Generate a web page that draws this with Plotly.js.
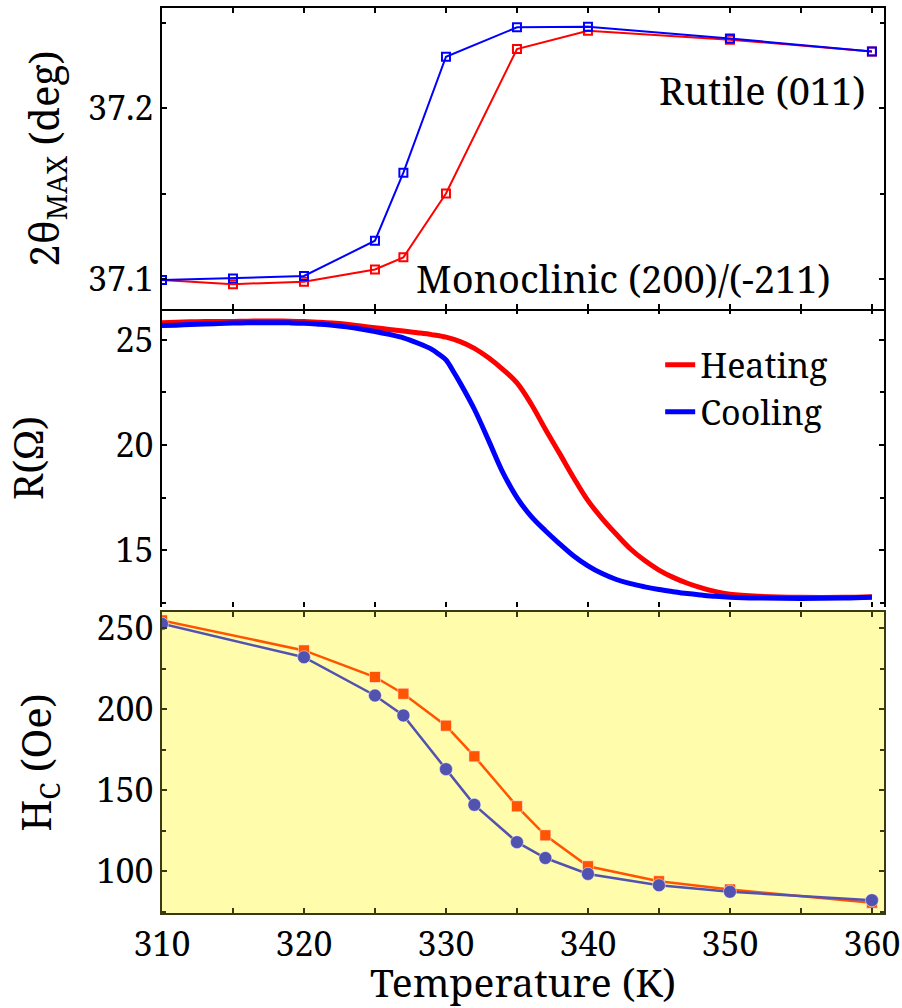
<!DOCTYPE html>
<html>
<head>
<meta charset="utf-8">
<script src="https://cdn.plot.ly/plotly-3.0.1.min.js"></script>
<style>html,body{margin:0;padding:0;background:#fff;}</style>
</head>
<body>
<div id="chart" style="width:902px;height:1008px"></div>
<script>
// ---- Top panel: 2θ_MAX (deg) ----
const xrdTemps = [310, 315, 320, 325, 327, 330, 335, 340, 350, 360];
const xrdHeating = [37.0994, 37.0970, 37.0985, 37.1056, 37.1127, 37.1500, 37.2345, 37.2452, 37.2400, 37.2330];
const xrdCooling = [37.0994, 37.1004, 37.1018, 37.1224, 37.1622, 37.2300, 37.2472, 37.2476, 37.2407, 37.2330];

// ---- Middle panel: R (Ω) ----
const resHeatT = [310,311,312,313,314,315,316,317,318,319,320,321,322,323,324,325,326,327,328,329,330,331,332,333,334,335,336,337,338,339,340,341,342,343,344,345,346,347,348,349,350,352,355,358,360];
const resHeat  = [25.82,25.84,25.86,25.87,25.88,25.88,25.89,25.90,25.90,25.89,25.87,25.84,25.80,25.74,25.66,25.58,25.50,25.42,25.34,25.25,25.13,24.92,24.60,24.15,23.60,22.95,21.95,20.75,19.60,18.43,17.35,16.50,15.75,15.05,14.50,14.05,13.70,13.42,13.20,13.02,12.90,12.80,12.75,12.75,12.78];
const resCoolT = [310,311,312,313,314,315,316,317,318,319,320,321,322,323,324,325,326,327,328,329,329.5,330,330.5,331,332,333,334,335,336,337,338,339,340,341,342,343,344,345,346,347,348,349,350,352,355,358,360];
const resCool  = [25.68,25.70,25.73,25.76,25.78,25.80,25.81,25.82,25.82,25.81,25.79,25.75,25.70,25.62,25.52,25.40,25.26,25.10,24.85,24.55,24.32,24.05,23.52,22.95,21.70,20.22,18.70,17.50,16.60,15.92,15.30,14.72,14.25,13.88,13.60,13.40,13.25,13.12,13.02,12.93,12.86,12.80,12.76,12.72,12.70,12.72,12.76];

// ---- Bottom panel: H_C (Oe) ----
const hcTemps = [310, 320, 325, 327, 330, 332, 335, 337, 340, 345, 350, 360];
const hcHeating = [254.7, 236.2, 219.8, 209.5, 189.8, 170.9, 140.1, 122.2, 103.1, 93.9, 88.8, 80.6];
const hcCooling = [252.6, 232.0, 208.4, 196.1, 163.0, 141.0, 118.0, 108.2, 98.4, 91.4, 87.4, 82.2];

const seriesNames = ['Heating', 'Cooling'];
const panelTexts = ['Rutile (011)', 'Monoclinic (200)/(-211)'];

const SERIF = 'Noto Serif, DejaVu Serif, serif';
const RED = '#ff0000', BLUE = '#0000ff';
const ORANGE = '#ff5400', PURPLE = '#5252b0';
const FRAME2 = '#3a3a12';

const traces = [
  {x: xrdTemps, y: xrdHeating, xaxis: 'x3', yaxis: 'y3', mode: 'lines+markers', showlegend: false,
   line: {color: RED, width: 2}, marker: {symbol: 'square-open', size: 8, color: RED, line: {width: 2, color: RED}}},
  {x: xrdTemps, y: xrdCooling, xaxis: 'x3', yaxis: 'y3', mode: 'lines+markers', showlegend: false,
   line: {color: BLUE, width: 2}, marker: {symbol: 'square-open', size: 8, color: BLUE, line: {width: 2, color: BLUE}}},
  {x: resHeatT, y: resHeat, xaxis: 'x2', yaxis: 'y2', mode: 'lines', name: seriesNames[0],
   line: {color: RED, width: 5, shape: 'spline', smoothing: 1}},
  {x: resCoolT, y: resCool, xaxis: 'x2', yaxis: 'y2', mode: 'lines', name: seriesNames[1],
   line: {color: BLUE, width: 5, shape: 'spline', smoothing: 1}},
  {x: hcTemps, y: hcHeating, xaxis: 'x', yaxis: 'y', mode: 'lines+markers', showlegend: false,
   line: {color: ORANGE, width: 2.5}, marker: {symbol: 'square', size: 11, color: ORANGE, line: {width: 1, color: 'rgba(255,255,255,0.5)'}}},
  {x: hcTemps, y: hcCooling, xaxis: 'x', yaxis: 'y', mode: 'lines+markers', showlegend: false,
   line: {color: PURPLE, width: 2.5}, marker: {symbol: 'circle', size: 13, color: PURPLE, line: {width: 1, color: 'rgba(255,255,255,0.5)'}}}
];

function xax(extra, col) {
  const c = col || '#000';
  return Object.assign({
    range: [310, 360.85], tick0: 310, dtick: 10, ticks: 'inside', ticklen: 5, tickwidth: 1.5,
    tickcolor: c, showline: true, linecolor: c, linewidth: 1.5, mirror: 'ticks',
    showgrid: false, zeroline: false,
    minor: {ticks: 'inside', dtick: 5, ticklen: 5, tickwidth: 1.5, tickcolor: c},
    tickfont: {family: SERIF, size: 34, color: '#000'}
  }, extra);
}
function yax(extra, col) {
  const c = col || '#000';
  return Object.assign({
    ticks: 'inside', ticklen: 5, tickwidth: 1.5, tickcolor: c,
    showline: true, linecolor: c, linewidth: 1.5, mirror: 'ticks',
    showgrid: false, zeroline: false,
    tickfont: {family: SERIF, size: 34, color: '#000'}
  }, extra);
}

const layout = {
  width: 902, height: 1008,
  margin: {l: 162, r: 18, t: 8, b: 95},
  paper_bgcolor: '#ffffff', plot_bgcolor: 'rgba(0,0,0,0)',
  font: {family: SERIF, color: '#000'},
  showlegend: true,
  legend: {x: 0.690, y: 0.6375, xanchor: 'left', yanchor: 'top', bgcolor: 'rgba(0,0,0,0)',
           font: {family: SERIF, size: 34, color: '#000'}, traceorder: 'normal'},
  xaxis: xax({anchor: 'y', domain: [0, 1],
              title: {text: 'Temperature (K)', font: {family: SERIF, size: 39, color: '#000'}, standoff: 14}}, FRAME2),
  yaxis: yax({anchor: 'x', domain: [0, 0.3326], range: [74.3, 259.9], dtick: 50, tick0: 0,
              minor: {ticks: 'inside', dtick: 25, ticklen: 4, tickwidth: 1.5, tickcolor: FRAME2},
              title: {text: 'H<sub>C</sub> (Oe)', font: {family: SERIF, size: 40, color: '#000'}, standoff: 32}}, FRAME2),
  xaxis2: xax({anchor: 'y2', domain: [0, 1], matches: 'x', showticklabels: false, showline: false}),
  yaxis2: yax({anchor: 'x2', domain: [0.3381, 0.6674], range: [12.29, 26.47], dtick: 5, tick0: 0,
               minor: {ticks: 'inside', dtick: 2.5, ticklen: 4, tickwidth: 1.5, tickcolor: '#000'},
               title: {text: 'R(Ω)', font: {family: SERIF, size: 40, color: '#000'}, standoff: 62}}),
  xaxis3: xax({anchor: 'y3', domain: [0, 1], matches: 'x', showticklabels: false}),
  yaxis3: yax({anchor: 'x3', domain: [0.6674, 1], range: [37.0825, 37.2585], dtick: 0.1, tick0: 37, tickformat: '.1f',
               minor: {ticks: 'inside', dtick: 0.05, ticklen: 4, tickwidth: 1.5, tickcolor: '#000'},
               title: {text: '2θ<sub>MAX</sub> (deg)', font: {family: SERIF, size: 40, color: '#000'}, standoff: 16}}),
  shapes: [
    {type: 'rect', xref: 'x domain', yref: 'y domain', x0: 0, x1: 1, y0: 0, y1: 1,
     fillcolor: '#fffcab', line: {width: 0}, layer: 'below'}
  ],
  annotations: [
    {xref: 'x3 domain', yref: 'y3 domain', x: 0.978, y: 0.727, xanchor: 'right', yanchor: 'middle',
     text: panelTexts[0], showarrow: false, font: {family: SERIF, size: 38, color: '#000'}},
    {xref: 'x3 domain', yref: 'y3 domain', x: 0.929, y: 0.103, xanchor: 'right', yanchor: 'middle',
     text: panelTexts[1], showarrow: false, font: {family: SERIF, size: 38, color: '#000'}}
  ]
};

Plotly.newPlot('chart', traces, layout, {displayModeBar: false});
</script>
</body>
</html>
